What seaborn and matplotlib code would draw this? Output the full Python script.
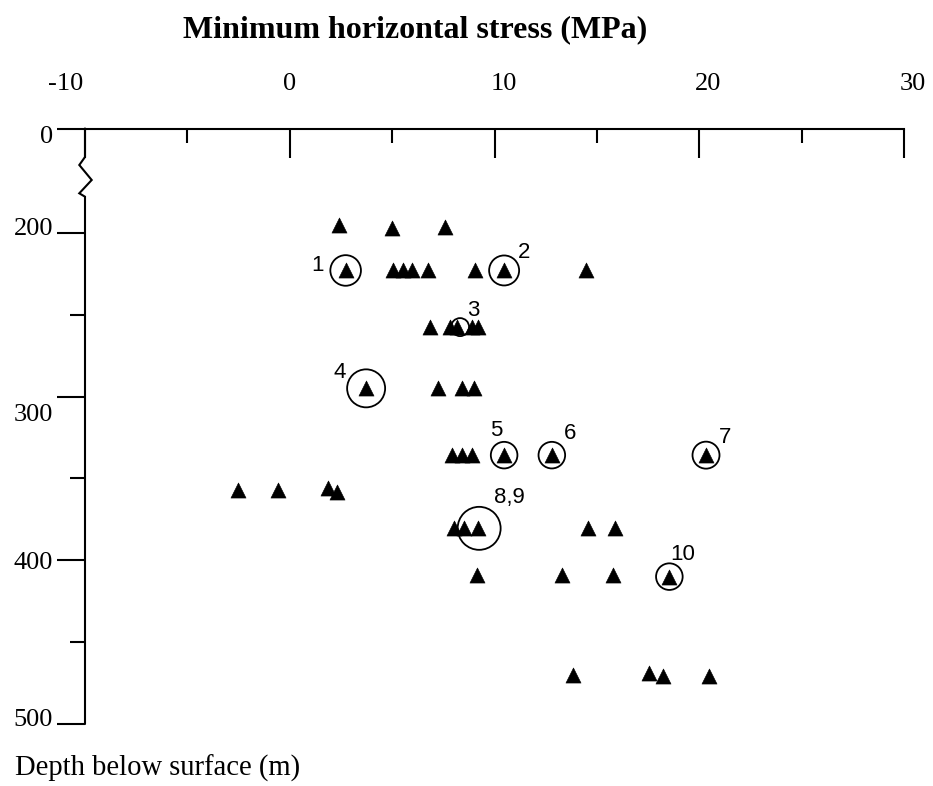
import matplotlib
matplotlib.use("Agg")
import matplotlib.pyplot as plt
from matplotlib.transforms import ScaledTranslation
import pandas as pd
import seaborn as sns

# ---- measurements: minimum horizontal stress (MPa) vs depth below surface (m)
stress = [2.4, 5.0, 7.6,
          2.73, 5.06, 5.52, 5.99, 6.77, 9.05, 10.47, 14.46,
          6.85, 7.83, 8.16, 8.89, 9.2,
          3.73, 7.23, 8.40, 9.02,
          7.9, 8.4, 8.9, 10.47, 12.8, 20.33,
          -2.54, -0.59, 1.86, 2.29,
          8.0, 8.5, 9.2, 14.55, 15.89,
          9.13, 13.28, 15.81, 18.54,
          13.85, 17.57, 18.25, 20.5]
depth = [195.5, 197, 196.5,
         223, 223, 223, 223, 223, 223, 223, 223,
         257.4, 257.4, 257.4, 257.4, 257.4,
         295, 295, 295, 295,
         335.8, 335.8, 335.8, 335.8, 335.8, 335.8,
         357.2, 357.2, 356, 358.4,
         380.5, 380.5, 380.5, 380.5, 380.5,
         409.3, 409.3, 409.3, 410,
         470.2, 468.8, 470.8, 470.8]

# numbered tests (circled)
test_labels = ["1", "2", "3", "4", "5", "6", "7", "8,9", "10"]
test_stress = [2.73, 10.47, 8.32, 3.73, 10.47, 12.8, 20.33, 9.25, 18.54]
test_depth = [223, 223, 257.6, 295, 335.8, 335.8, 335.8, 380.5, 410]

# axis ticks
x_ticks = [-10, 0, 10, 20, 30]
x_minor = [-5, 5, 15, 25]
x_tick_labels = ["-10", "0", "10", "20", "30"]
depth_axis_top = 136.3          # depth where the broken axis is labelled "0"
y_ticks = [depth_axis_top, 200, 300, 400, 500]
y_minor = [250, 350, 450]
y_tick_labels = ["0", "200", "300", "400", "500"]

# ---- styling
ring_radius_px = [15.3, 15, 9, 19, 13.3, 13.3, 13.5, 21.5, 13.3]
label_offset_px = [(-28, 5), (20, 18), (13, 17), (-26, 16), (-8, 25),
                   (18, 22), (19, 18), (30, 31), (13, 22)]
x_label_shift_px = [-19, 0, 9, 9, 9]
y_label_shift_px = [6, -6, 16, 0, -7]     # positive = downward

sns.set_style("white")
serif = ["Liberation Serif", "DejaVu Serif"]
sans = ["Liberation Sans", "DejaVu Sans"]
plt.rcParams["font.family"] = serif
plt.rcParams["text.color"] = "black"
plt.rcParams["xtick.color"] = "black"
plt.rcParams["ytick.color"] = "black"
plt.rcParams["axes.labelcolor"] = "black"

W, H = 933, 786
fig = plt.figure(figsize=(W / 100, H / 100), dpi=100)
ax_left, ax_right, ax_top, ax_bot = 85, 904, 128.5, 724
ax = fig.add_axes([ax_left / W, 1 - ax_bot / H,
                   (ax_right - ax_left) / W, (ax_bot - ax_top) / H])

df = pd.DataFrame({"stress": stress, "depth": depth})
sns.scatterplot(data=df, x="stress", y="depth", marker="^", color="black",
                s=118, edgecolor="black", linewidth=0.4, ax=ax, zorder=3)

tests = pd.DataFrame({"stress": test_stress, "depth": test_depth})
ring_sizes = [(2 * r * 0.72) ** 2 for r in ring_radius_px]
ax.scatter(tests["stress"], tests["depth"], s=ring_sizes, marker="o",
           facecolors="none", edgecolors="black", linewidths=1.3, zorder=2)
for lab, xs, ys, (dx, dy) in zip(test_labels, test_stress, test_depth,
                                  label_offset_px):
    ax.annotate(lab, (xs, ys), xytext=(dx, dy), textcoords="offset pixels",
                ha="center", va="center", fontsize=16, family=sans,
                color="black")

ax.set_xlim(-10, 30)
ax.set_ylim(500, depth_axis_top)

ax.xaxis.tick_top()
ax.set_xticks(x_ticks)
ax.set_xticks(x_minor, minor=True)
ax.set_xticklabels(x_tick_labels)
ax.set_yticks(y_ticks)
ax.set_yticks(y_minor, minor=True)
ax.set_yticklabels(y_tick_labels)
ax.set_xlabel("")
ax.set_ylabel("")

lw = 1.5
ax.tick_params(axis="x", which="major", direction="in", length=21, width=lw,
               pad=24, labelsize=19, top=True, bottom=False, colors="black")
ax.tick_params(axis="x", which="minor", direction="in", length=10, width=lw,
               top=True, bottom=False, colors="black")
ax.tick_params(axis="y", which="major", direction="out", length=20, width=lw,
               pad=3, labelsize=19, left=True, colors="black")
ax.tick_params(axis="y", which="minor", direction="out", length=10.5,
               width=lw, left=True, colors="black")

for side in ["bottom", "right", "left"]:
    ax.spines[side].set_visible(False)
ax.spines["top"].set_linewidth(lw)
ax.spines["top"].set_color("black")

# shift individual tick labels
for lbl, sx in zip(ax.get_xticklabels(), x_label_shift_px):
    lbl.set_transform(lbl.get_transform() +
                      ScaledTranslation(sx / 100, 0, fig.dpi_scale_trans))
for lbl, sy in zip(ax.get_yticklabels(), y_label_shift_px):
    lbl.set_transform(lbl.get_transform() +
                      ScaledTranslation(0, -sy / 100, fig.dpi_scale_trans))

# broken left axis with a zigzag between 0 and 200 m
px_per_unit = (ax_right - ax_left) / 40.0
d_per_px = (500 - depth_axis_top) / (ax_bot - ax_top)
def to_depth(py):
    return depth_axis_top + (py - ax_top) * d_per_px
brk_px = [(0, ax_top), (0, 157), (-5.7, 165), (6.7, 180), (-5.7, 193.3),
          (0, 196.7), (0, ax_bot)]
bx = [-10 + p[0] / px_per_unit for p in brk_px]
by = [to_depth(p[1]) for p in brk_px]
ax.plot(bx, by, color="black", lw=lw, clip_on=False, solid_joinstyle="miter")

fig.text(415 / W, 1 - 30 / H, "Minimum horizontal stress (MPa)",
         ha="center", va="center", fontsize=23, fontweight="bold")
fig.text(15 / W, 1 - 768 / H, "Depth below surface (m)",
         ha="left", va="center", fontsize=20.6)

fig.savefig("out.png", dpi=100, facecolor="white")
